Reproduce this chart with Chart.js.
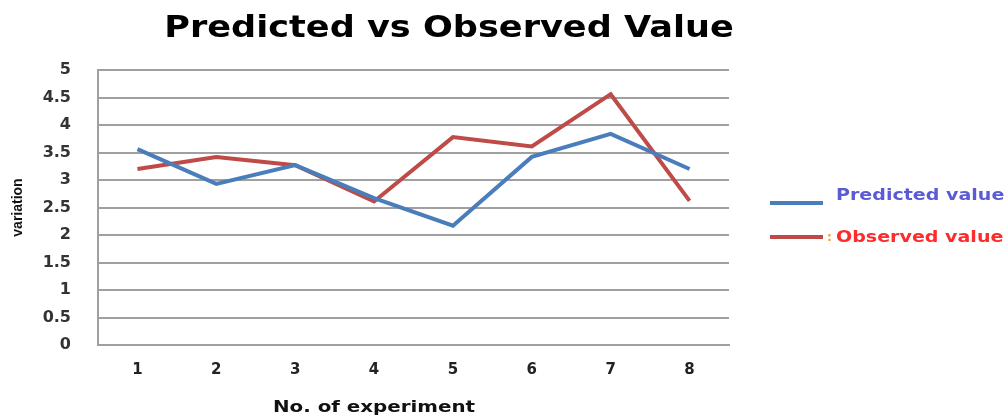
<!DOCTYPE html>
<html>
<head>
<meta charset="utf-8">
<script src="https://cdn.jsdelivr.net/npm/chart.js@4/dist/chart.umd.min.js"></script>
<style>
html,body{margin:0;padding:0;background:#fff;}
#wrap{width:1008px;height:419px;position:relative;}
</style>
</head>
<body>
<div id="wrap"><canvas id="c" width="1008" height="419"></canvas></div>
<script>
const chartTitle = "Predicted vs Observed Value";
const xTitle = "No. of experiment";
const yTitle = "variation";
const categories = ["1","2","3","4","5","6","7","8"];
const predicted = [3.56, 2.93, 3.27, 2.67, 2.17, 3.42, 3.84, 3.2];
const observed  = [3.2, 3.42, 3.27, 2.61, 3.78, 3.61, 4.56, 2.62];
const seriesNames = ["Predicted value", "Observed value"];
const legendTextColors = ["#5b5bd6", "#ff2a2a"];

function stretchedText(ctx, text, x, y, sx, align) {
  ctx.save();
  ctx.translate(x, y);
  ctx.scale(sx, 1);
  ctx.textAlign = align;
  ctx.fillText(text, 0, 0);
  ctx.restore();
}

const overlay = {
  id: 'overlay',
  afterDraw(chart) {
    const ctx = chart.ctx;
    ctx.save();
    ctx.textBaseline = 'middle';
    // Title
    ctx.fillStyle = '#000';
    ctx.font = 'bold 30px "DejaVu Sans"';
    stretchedText(ctx, chartTitle, 449, 29, 1.17, 'center');
    // X title
    ctx.font = 'bold 16px "DejaVu Sans"';
    ctx.fillStyle = '#111';
    stretchedText(ctx, xTitle, 374, 408, 1.24, 'center');
    // Legend
    const ys = [203, 237];
    const ty = [196, 238];
    chart.data.datasets.forEach((ds, i) => {
      ctx.strokeStyle = ds.borderColor;
      ctx.lineWidth = 4;
      ctx.beginPath();
      ctx.moveTo(770, ys[i]);
      ctx.lineTo(823, ys[i]);
      ctx.stroke();
      ctx.fillStyle = legendTextColors[i];
      ctx.font = 'bold 15px "DejaVu Sans"';
      stretchedText(ctx, ds.label, 836, ty[i], 1.27, 'left');
    });
    ctx.fillStyle = '#f0a030';
    ctx.font = 'bold 12px "DejaVu Sans"';
    stretchedText(ctx, ':', 827, 238, 1, 'left');
    ctx.restore();
  }
};

new Chart(document.getElementById('c'), {
  type: 'line',
  data: {
    labels: categories,
    datasets: [
      { label: seriesNames[0], data: predicted, borderColor: '#4a7ebb', backgroundColor: '#4a7ebb', borderWidth: 4, pointRadius: 0, tension: 0 },
      { label: seriesNames[1], data: observed, borderColor: '#be4b48', backgroundColor: '#be4b48', borderWidth: 4, pointRadius: 0, tension: 0 }
    ]
  },
  options: {
    responsive: false,
    animation: false,
    layout: { padding: { top: 70, right: 279, left: 0, bottom: 0 } },
    plugins: { legend: { display: false }, title: { display: false }, tooltip: { enabled: false } },
    scales: {
      x: {
        offset: true,
        grid: { display: false, drawTicks: false },
        border: { display: true, color: '#a0a0a0', width: 2 },
        ticks: { color: '#222', font: { family: 'DejaVu Sans', size: 15, weight: 'bold' }, padding: 16, maxRotation: 0 },
        afterFit(s) { s.height = 74; }
      },
      y: {
        min: 0, max: 5,
        ticks: {
          stepSize: 0.5, color: '#333',
          font: { family: 'DejaVu Sans', size: 16, weight: 'bold' }, padding: 27,
          callback: (v) => String(Math.round(v * 10) / 10)
        },
        grid: { color: '#a0a0a0', lineWidth: 2, drawTicks: false },
        border: { display: true, color: '#a0a0a0', width: 2 },
        title: { display: true, text: yTitle, color: '#111', font: { family: '"Liberation Sans Narrow", "Liberation Sans"', size: 14, weight: 'bold' }, padding: { top: 10, bottom: 0 } },
        afterFit(s) { s.width = 98; }
      }
    }
  },
  plugins: [overlay]
});
</script>
</body>
</html>
